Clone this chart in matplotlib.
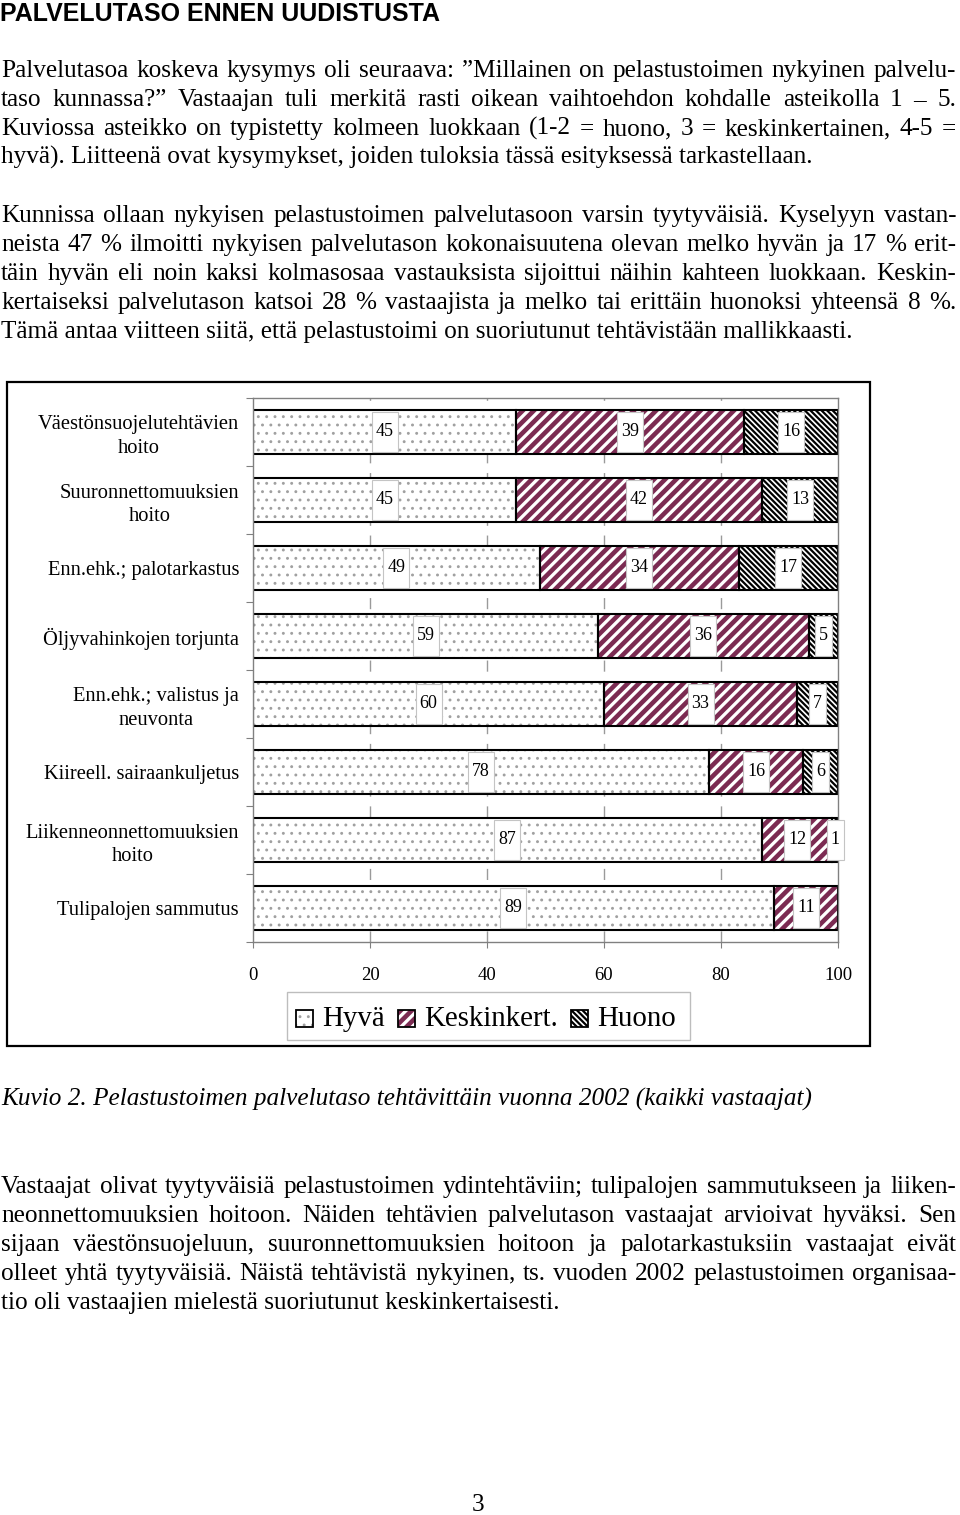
import matplotlib
matplotlib.use('Agg')
import matplotlib.pyplot as plt
from matplotlib.patches import Rectangle
import numpy as np

# ---------------- data ----------------
categories = ["Väestönsuojelutehtävien\nhoito", "Suuronnettomuuksien\nhoito",
              "Enn.ehk.; palotarkastus", "Öljyvahinkojen torjunta",
              "Enn.ehk.; valistus ja\nneuvonta", "Kiireell. sairaankuljetus",
              "Liikenneonnettomuuksien\nhoito", "Tulipalojen sammutus"]
hyva = [45, 45, 49, 59, 60, 78, 87, 89]
keski = [39, 42, 34, 36, 33, 16, 12, 11]
huono = [16, 13, 17, 5, 7, 6, 1, 0]
series_names = ["Hyvä", "Keskinkert.", "Huono"]
xticks = [0, 20, 40, 60, 80, 100]

title = "PALVELUTASO ENNEN UUDISTUSTA"
para1 = ["Palvelutasoa koskeva kysymys oli seuraava: ”Millainen on pelastustoimen nykyinen palvelu-",
         "taso kunnassa?” Vastaajan tuli merkitä rasti oikean vaihtoehdon kohdalle asteikolla 1 – 5.",
         "Kuviossa asteikko on typistetty kolmeen luokkaan (1-2 = huono, 3 = keskinkertainen, 4-5 =",
         "hyvä). Liitteenä ovat kysymykset, joiden tuloksia tässä esityksessä tarkastellaan."]
para2 = ["Kunnissa ollaan nykyisen pelastustoimen palvelutasoon varsin tyytyväisiä. Kyselyyn vastan-",
         "neista 47 % ilmoitti nykyisen palvelutason kokonaisuutena olevan melko hyvän ja 17 % erit-",
         "täin hyvän eli noin kaksi kolmasosaa vastauksista sijoittui näihin kahteen luokkaan. Keskin-",
         "kertaiseksi palvelutason katsoi 28 % vastaajista ja melko tai erittäin huonoksi yhteensä 8 %.",
         "Tämä antaa viitteen siitä, että pelastustoimi on suoriutunut tehtävistään mallikkaasti."]
caption = "Kuvio 2. Pelastustoimen palvelutaso tehtävittäin vuonna 2002 (kaikki vastaajat)"
para3 = ["Vastaajat olivat tyytyväisiä pelastustoimen ydintehtäviin; tulipalojen sammutukseen ja liiken-",
         "neonnettomuuksien hoitoon. Näiden tehtävien palvelutason vastaajat arvioivat hyväksi. Sen",
         "sijaan väestönsuojeluun, suuronnettomuuksien hoitoon ja palotarkastuksiin vastaajat eivät",
         "olleet yhtä tyytyväisiä. Näistä tehtävistä nykyinen, ts. vuoden 2002 pelastustoimen organisaa-",
         "tio oli vastaajien mielestä suoriutunut keskinkertaisesti."]
page_no = "3"

# ---------------- figure ----------------
W, H = 960, 1515
fig = plt.figure(figsize=(W / 100, H / 100), dpi=100)
SERIF = ['Liberation Serif', 'DejaVu Serif']


def fx(x):
    return x / W


def fy(y):
    return 1 - y / H


renderer = fig.canvas.get_renderer()
BODY = 18.2


def put_line(line, yc, justify, x0=1, x1=956, size=BODY):
    yb = yc + 7  # baseline
    if not justify:
        fig.text(fx(x0), fy(yb), line, fontsize=size, family=SERIF, va='baseline', ha='left')
        return
    words = line.split(' ')
    texts = [fig.text(0, 0, w, fontsize=size, family=SERIF, va='baseline', ha='left') for w in words]
    widths = [t.get_window_extent(renderer).width for t in texts]
    gap = (x1 - x0 - sum(widths)) / max(len(words) - 1, 1)
    x = x0
    for t, wd in zip(texts, widths):
        t.set_position((fx(x), fy(yb)))
        x += wd + gap


def put_para(lines, y0, step=29):
    for k, ln in enumerate(lines):
        put_line(ln, y0 + k * step, justify=(k < len(lines) - 1))


fig.text(fx(0), fy(21), title, fontsize=18.0, family=['Liberation Sans', 'DejaVu Sans'],
         fontweight='bold', va='baseline', ha='left')
put_para(para1, 70)
put_para(para2, 215)
fig.text(fx(1), fy(1099 + 7), caption, fontsize=BODY, family=SERIF, style='italic',
         va='baseline', ha='left')
put_para(para3, 1186)
fig.text(fx(478), fy(1505), page_no, fontsize=BODY, family=SERIF, va='center', ha='center')

# outer chart frame
fig.patches.append(Rectangle((fx(7), fy(1046)), fx(870) - fx(7), fy(382) - fy(1046),
                             transform=fig.transFigure, fill=False, edgecolor='black', lw=1.6))

# ---------------- axes ----------------
ax_l, ax_r, ax_t, ax_b = 253, 838, 398, 942
ax = fig.add_axes([fx(ax_l), fy(ax_b), fx(ax_r) - fx(ax_l), fy(ax_t) - fy(ax_b)])
n = len(categories)
ypos = np.arange(n)
ax.set_xlim(0, 100)
ax.set_ylim(n - 0.5, -0.5)
ax.set_axisbelow(True)

for s in ['left', 'top', 'right', 'bottom']:
    ax.spines[s].set_color('#808080')
    ax.spines[s].set_linewidth(1.0)

ax.set_xticks(xticks)
ax.set_xticklabels([str(t) for t in xticks], fontsize=13.5, family=SERIF)
ax.tick_params(axis='x', length=4, color='#808080', pad=14)
ax.set_yticks(np.arange(n + 1) - 0.5)
ax.set_yticklabels([])
ax.tick_params(axis='y', which='major', length=5, color='#808080')
ax.set_yticks(ypos, minor=True)
ax.set_yticklabels(categories, minor=True, fontsize=14.8, family=SERIF)
ax.tick_params(axis='y', which='minor', length=0, pad=10)
for lbl in ax.get_yticklabels(minor=True):
    lbl.set_multialignment('center')
    lbl.set_linespacing(1.3)

for t in xticks[1:-1]:
    ax.axvline(t, color='#9a9a9a', lw=1.0, ls=(0, (8, 7)), zorder=0)

BAR_H = 0.65
styles = [('..', '#a0a0a0', 0.9), ('///', '#7b2b52', 3.3), ('\\\\\\\\\\\\', 'black', 1.6)]
series = [hyva, keski, huono]
left = np.zeros(n)
px_per_unit = (ax_r - ax_l) / 100.0
for vals, (hatch, hc, hlw) in zip(series, styles):
    vals = np.array(vals, dtype=float)
    with plt.rc_context({'hatch.linewidth': hlw}):
        bars = ax.barh(ypos, vals, left=left, height=BAR_H, color='white', edgecolor=hc,
                       hatch=hatch, linewidth=0, zorder=1)
    for b in bars:
        if hasattr(b, 'set_hatch_linewidth'):
            b.set_hatch_linewidth(hlw)
    mask = vals > 0
    ax.barh(ypos[mask], vals[mask], left=left[mask], height=BAR_H, fill=False,
            edgecolor='black', linewidth=1.5, zorder=2)
    for i in range(n):
        v = vals[i]
        if v <= 0:
            continue
        cx = left[i] + v / 2
        s = str(int(v))
        bw = (len(s) * 9.0 + 8) / px_per_unit
        ax.add_patch(Rectangle((cx - bw / 2, ypos[i] - 0.29), bw, 0.58, facecolor='white',
                               edgecolor='#c4c4c4', lw=0.8, zorder=3, clip_on=False))
        ax.text(cx, ypos[i], s, ha='center', va='center', fontsize=13, family=SERIF,
                zorder=4, clip_on=False)
    left = left + vals

# ---------------- legend (drawn manually) ----------------
fig.patches.append(Rectangle((fx(287), fy(1040)), fx(690) - fx(287), fy(992) - fy(1040),
                             transform=fig.transFigure, fill=False, edgecolor='#bdbdbd', lw=1.0))
leg_x = [296, 398, 571]
leg_hatch = ['..', '///', '\\\\\\\\\\\\']
for (hatch, hc, hlw), lh, name, lx in zip(styles, leg_hatch, series_names, leg_x):
    with plt.rc_context({'hatch.linewidth': hlw}):
        p = Rectangle((fx(lx), fy(1027)), fx(lx + 17) - fx(lx), fy(1010) - fy(1027),
                      transform=fig.transFigure, facecolor='white', edgecolor=hc, hatch=lh, lw=0)
    if hasattr(p, 'set_hatch_linewidth'):
        p.set_hatch_linewidth(hlw)
    fig.patches.append(p)
    fig.patches.append(Rectangle((fx(lx), fy(1027)), fx(lx + 17) - fx(lx), fy(1010) - fy(1027),
                                 transform=fig.transFigure, fill=False, edgecolor='black', lw=1.3))
    fig.text(fx(lx + 26), fy(1019), name, fontsize=20.8, family=SERIF, va='center', ha='left')

fig.savefig('out.png', dpi=100)
